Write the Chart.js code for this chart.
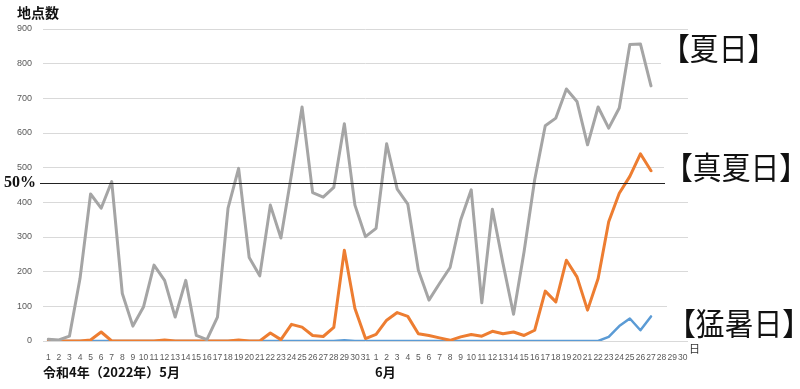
<!DOCTYPE html>
<html lang="ja">
<head>
<meta charset="utf-8">
<script src="https://cdn.jsdelivr.net/npm/chart.js@4"></script>
<style>
  html, body { margin: 0; padding: 0; background: #fff; }
  #chart { display: block; }
</style>
</head>
<body>
<canvas id="chart" width="800" height="389"></canvas>
<script>
// ---- data ----
const mayDays = Array.from({ length: 31 }, (_, i) => String(i + 1));
const juneDays = Array.from({ length: 30 }, (_, i) => String(i + 1));
const dayLabels = mayDays.concat(juneDays);

// 夏日 (25℃以上)
const natsubiMay  = [5,3,14,180,424,383,460,137,43,98,219,175,69,175,16,4,69,383,498,241,188,392,297,480,675,428,415,443,627,392,301];
const natsubiJune = [325,569,438,395,204,118,166,212,349,436,110,380,224,77,258,465,621,643,727,691,566,675,614,672,855,857,736];
// 真夏日 (30℃以上)
const manatsubiMay  = [0,0,0,0,3,26,0,0,0,0,0,3,0,0,0,0,0,0,3,0,0,23,4,48,40,16,13,39,262,94,7];
const manatsubiJune = [19,60,82,71,21,16,9,2,12,19,14,28,21,26,16,31,144,113,233,185,89,180,344,426,475,540,491];
// 猛暑日 (35℃以上)
const mousyobiMay  = [0,0,0,0,0,0,0,0,0,0,0,0,0,0,0,0,0,0,0,0,0,0,0,0,0,0,0,0,2,0,0];
const mousyobiJune = [0,0,0,0,0,0,0,0,0,0,0,0,0,0,0,0,0,0,0,0,0,0,12,43,65,31,71];

const halfLine = 455;      // 50% 基準線
const yTicksMax = 900;
const yStep = 100;

const pad = (arr, n) => arr.concat(Array(n - arr.length).fill(null));

// overlay text: titles, 50% line, series labels
const overlay = {
  id: 'overlay',
  afterDatasetsDraw(chart) {
    const { ctx, scales: { y } } = chart;
    const yy = Math.round(y.getPixelForValue(halfLine)) + 0.5;
    ctx.save();
    ctx.strokeStyle = '#222';
    ctx.lineWidth = 1.2;
    ctx.beginPath();
    ctx.moveTo(40, yy);
    ctx.lineTo(665, yy);
    ctx.stroke();
    ctx.restore();
  },
  afterDraw(chart) {
    const { ctx } = chart;
    ctx.save();
    ctx.fillStyle = '#111';
    ctx.textBaseline = 'middle';

    ctx.font = 'bold 14px "Noto Sans CJK JP"';
    ctx.fillText('地点数', 17, 13);

    ctx.font = 'bold 13px "Noto Sans CJK JP"';
    ctx.fillText('令和4年（2022年）5月', 43, 372);
    ctx.fillText('6月', 375, 372);

    ctx.font = '11px "Noto Sans CJK JP"';
    ctx.fillStyle = '#333';
    ctx.fillText('日', 689, 349);

    ctx.fillStyle = '#111';
    ctx.font = 'bold 16px "Liberation Serif"';
    ctx.fillText('50%', 4, 183);

    const labels = [
      { text: '【夏日】', x: 661, y: 47 },
      { text: '【真夏日】', x: 664, y: 166 },
      { text: '【猛暑日】', x: 667, y: 322 }
    ];
    const sx = 0.93;
    ctx.font = '31px "Noto Sans CJK JP"';
    labels.forEach(l => {
      const w = ctx.measureText(l.text).width * sx;
      ctx.fillStyle = '#fff';
      ctx.fillRect(l.x, l.y - 17, w + 4, 34);
      ctx.save();
      ctx.translate(l.x, l.y);
      ctx.scale(sx, 1);
      ctx.fillStyle = '#111';
      ctx.fillText(l.text, 0, 1);
      ctx.restore();
    });
    ctx.restore();
  }
};

new Chart(document.getElementById('chart'), {
  type: 'line',
  data: {
    labels: dayLabels,
    datasets: [
      { label: '夏日', data: pad(natsubiMay.concat(natsubiJune), 61), borderColor: '#a5a5a5', borderWidth: 3 },
      { label: '真夏日', data: pad(manatsubiMay.concat(manatsubiJune), 61), borderColor: '#ed7d31', borderWidth: 3 },
      { label: '猛暑日', data: pad(mousyobiMay.concat(mousyobiJune), 61), borderColor: '#5b9bd5', borderWidth: 2.5 }
    ]
  },
  options: {
    responsive: false,
    animation: false,
    layout: { padding: { left: 0, right: 112, top: 29, bottom: 0 } },
    elements: { point: { radius: 0 }, line: { tension: 0, borderJoinStyle: 'round', borderCapStyle: 'round' } },
    plugins: { legend: { display: false }, tooltip: { enabled: false } },
    scales: {
      x: {
        offset: true,
        grid: { display: false },
        border: { display: false },
        afterFit: s => { s.height = 48; },
        ticks: {
          autoSkip: false, maxRotation: 0, minRotation: 0, padding: 4,
          color: '#595959', font: { family: 'Liberation Sans', size: 8.5 }
        }
      },
      y: {
        min: 0, max: yTicksMax,
        afterFit: s => { s.width = 43; },
        grid: { color: '#d9d9d9', drawTicks: false },
        border: { display: false },
        ticks: {
          stepSize: yStep, padding: 11,
          color: '#595959', font: { family: 'Liberation Sans', size: 9 }
        }
      }
    }
  },
  plugins: [overlay]
});
</script>
</body>
</html>
